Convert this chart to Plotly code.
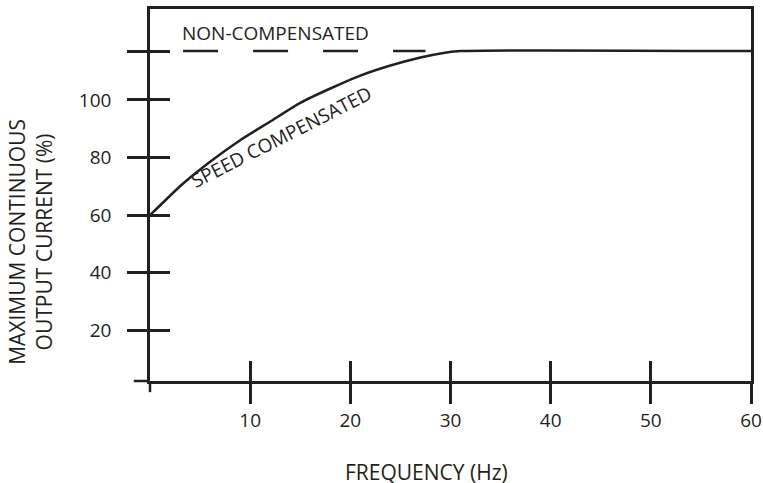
import plotly.graph_objects as go

# ---- data ----
freq_speed = [0, 1, 3, 6, 9, 12, 15, 18, 21, 24, 27, 29, 31, 60]
current_speed = [60, 63.3, 70, 78.5, 86, 92.5, 99, 104, 108.5, 112, 114.8, 116.2, 117, 117]
freq_noncomp = [3.3, 27.5]
current_noncomp = [117, 117]
x_ticks = [10, 20, 30, 40, 50, 60]
y_ticks = [20, 40, 60, 80, 100, 117]
y_tick_labels = ["20", "40", "60", "80", "100", ""]

INK = "#231f20"
FONT = "Open Sans"
LW = 2.5
X_RANGE = [0, 60]
Y_RANGE = [2.26, 131.65]

fig = go.Figure()
fig.add_trace(go.Scatter(x=freq_speed, y=current_speed, mode="lines",
                         line=dict(color=INK, width=LW, shape="spline",
                                   smoothing=0.6),
                         hoverinfo="skip", showlegend=False))
fig.add_trace(go.Scatter(x=freq_noncomp, y=current_noncomp, mode="lines",
                         line=dict(color=INK, width=LW, dash="35px,35px"),
                         hoverinfo="skip", showlegend=False))
# invisible trace on the overlay axes (inside half of the crossing ticks)
fig.add_trace(go.Scatter(x=freq_speed, y=current_speed, mode="lines",
                         line=dict(color="rgba(0,0,0,0)", width=0),
                         xaxis="x2", yaxis="y2", hoverinfo="skip",
                         showlegend=False))

tick_font = dict(family=FONT, size=19, color=INK)
title_font = dict(family=FONT, size=21, color=INK)

fig.update_layout(
    width=763, height=483, autosize=False,
    margin=dict(l=149.5, r=12, t=9, b=102),
    paper_bgcolor="white", plot_bgcolor="white",
    font=tick_font,
    xaxis=dict(range=X_RANGE, tickvals=x_ticks, ticks="outside", ticklen=20,
               tickwidth=LW, tickcolor=INK, showline=True, linecolor=INK,
               linewidth=LW, mirror=True, showgrid=False, zeroline=False,
               tickfont=tick_font, ticklabelstandoff=0, fixedrange=True,
               automargin=False, ticklabeloverflow="allow"),
    yaxis=dict(range=Y_RANGE, tickvals=y_ticks, ticktext=y_tick_labels,
               ticks="outside", ticklen=20, tickwidth=LW, tickcolor=INK,
               showline=True, linecolor=INK, linewidth=LW, mirror=True,
               showgrid=False, zeroline=False, tickfont=tick_font,
               ticklabelstandoff=12, fixedrange=True, automargin=False),
    xaxis2=dict(range=X_RANGE, tickvals=x_ticks, ticks="inside", ticklen=20,
                tickwidth=LW, tickcolor=INK, showticklabels=False,
                showline=False, showgrid=False, zeroline=False,
                overlaying="x", anchor="y2", fixedrange=True),
    yaxis2=dict(range=Y_RANGE, tickvals=y_ticks, ticks="inside", ticklen=20,
                tickwidth=LW, tickcolor=INK, showticklabels=False,
                showline=False, showgrid=False, zeroline=False,
                overlaying="y", anchor="x2", fixedrange=True),
    shapes=[
        # x-axis line extending left past the y-axis
        dict(type="line", xref="x domain", yref="y domain",
             x0=-0.027, x1=0, y0=0, y1=0,
             line=dict(color=INK, width=LW)),
        # y-axis line extending below the x-axis
        dict(type="line", xref="x domain", yref="y domain",
             x0=0, x1=0, y0=0, y1=-0.03,
             line=dict(color=INK, width=LW)),
    ],
    annotations=[
        dict(text="NON-COMPENSATED", x=3.0, y=123.3, xref="x",
             yref="y", xanchor="left", yanchor="middle", showarrow=False,
             font=tick_font),
        dict(text="SPEED COMPENSATED", x=13.1, y=87, xref="x", yref="y",
             textangle=-27, showarrow=False, font=tick_font),
        dict(text="FREQUENCY (Hz)", x=0.46, y=-0.245,
             xref="paper", yref="paper", xanchor="center", yanchor="middle",
             showarrow=False, font=title_font),
        dict(text="MAXIMUM CONTINUOUS<br>OUTPUT CURRENT (%)",
             x=-0.198, y=0.374,
             xref="paper", yref="paper", xanchor="center", yanchor="middle",
             textangle=-90, showarrow=False, font=title_font),
    ],
)

fig.write_html(
    "out.html",
    config={"displayModeBar": False, "responsive": False},
    post_script="document.body.style.margin='0';"
                "document.body.style.overflow='hidden';",
)
